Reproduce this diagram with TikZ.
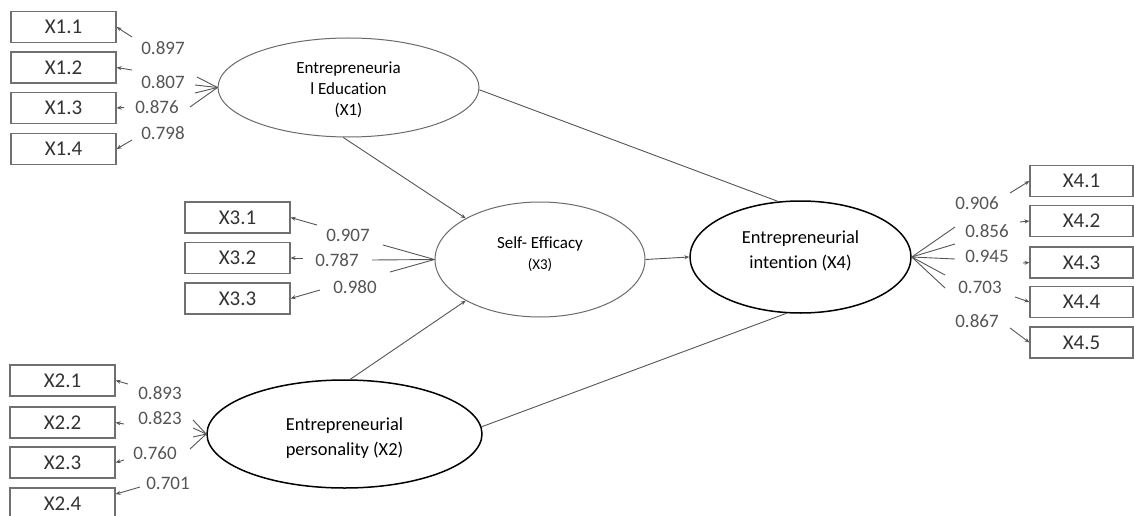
\documentclass[tikz,border=0pt]{standalone}
\usepackage{fontspec}
\setmainfont{Carlito}[Ligatures=NoCommon]
\usetikzlibrary{shapes.geometric,arrows.meta}
\definecolor{boxgray}{HTML}{707070}
\definecolor{textgray}{HTML}{333333}
\definecolor{numgray}{HTML}{555555}
\definecolor{ellgray}{HTML}{6A6A6A}
\definecolor{linegray}{HTML}{555555}
\begin{document}
\begin{tikzpicture}[x=1pt,y=-1pt,
  ind/.style={draw=boxgray, line width=1.2pt, minimum width=105pt, minimum height=31pt, inner sep=0pt, font=\fontsize{21}{22}\selectfont, text=textgray},
  lat/.style={ellipse, draw=ellgray, line width=1pt, inner sep=0pt},
  latb/.style={ellipse, draw=black, line width=1.5pt, inner sep=0pt},
  lattxt/.style={align=center, inner sep=0pt, font=\fontsize{17}{21}\selectfont},
  lattxtb/.style={align=center, inner sep=0pt, font=\fontsize{18.4}{25}\selectfont},
  ld/.style={font=\fontsize{19}{20}\selectfont, text=numgray, inner sep=0pt},
  pth/.style={draw=linegray, line width=0.9pt},
  arr/.style={pth, -{Stealth[length=5pt,width=4pt]}},
]
\useasboundingbox (0,0) rectangle (1134,516);

% latent variables
\node[lat, minimum width=261pt, minimum height=99pt] (X1) at (348.5,87.5) {};
\node[lattxt] (X1t) at ([yshift=-2.5pt]X1.center) {Entrepreneuria\\l Education\\(X1)};
\node[lat, minimum width=210pt, minimum height=115pt] (X3) at (540,259.5) {};
\node[lattxt] (X3t) at ([yshift=5pt]X3.center) {Self- Efficacy\\{\fontsize{15}{18}\selectfont (X3)}};
\node[latb, minimum width=221pt, minimum height=112pt] (X4) at (800.5,257) {};
\node[lattxtb] (X4t) at ([yshift=6pt]X4.center) {Entrepreneurial\\intention (X4)};
\node[latb, minimum width=275pt, minimum height=108pt] (X2) at (344.5,434) {};
\node[lattxtb] (X2t) at ([yshift=-4pt]X2.center) {Entrepreneurial\\personality (X2)};

% structural paths
\draw[arr] (X1.-96) -- (X3.151);
\draw[arr] (X2.84) -- (X3.-151);
\draw[arr] (X3.0) -- (X4.180);
\draw[pth] (X1.-1) -- (X4.112);
\draw[pth] (X2.3) -- (X4.-104);

% X1 indicators
\node[ind] (b11) at (63.5,27) {X1.1};
\node[ind] (b12) at (63.5,67.5) {X1.2};
\node[ind] (b13) at (63.5,108) {X1.3};
\node[ind] (b14) at (63.5,149) {X1.4};
\coordinate (f11) at (197,77);
\coordinate (f12) at (195,85);
\coordinate (f13) at (195,93);
\coordinate (f14) at (190,107);
\foreach \f in {f11,f12,f13,f14} \draw[pth] (X1.180) -- (\f);
\coordinate (a11) at (132,37);
\coordinate (a12) at (132,70);
\coordinate (a13) at (124,107.5);
\coordinate (a14) at (132,140);
\draw[arr] (a11) -- (b11.east);
\draw[arr] (a12) -- (b12.east);
\draw[arr] (a13) -- (b13.east);
\draw[arr] (a14) -- (b14.east);
\node[ld] (l11) at (163,48) {0.897};
\node[ld] (l12) at (163,82) {0.807};
\node[ld] (l13) at (157,107) {0.876};
\node[ld] (l14) at (163,133) {0.798};

% X3 indicators
\node[ind] (b31) at (237.5,217.5) {X3.1};
\node[ind] (b32) at (237.5,258) {X3.2};
\node[ind] (b33) at (237.5,298.5) {X3.3};
\coordinate (f31) at (383,245);
\coordinate (f32) at (372,260);
\coordinate (f33) at (390,272);
\foreach \f in {f31,f32,f33} \draw[pth] (X3.180) -- (\f);
\coordinate (a31) at (317,225);
\coordinate (a32) at (303,258);
\coordinate (a33) at (320,290);
\draw[arr] (a31) -- (b31.east);
\draw[arr] (a32) -- (b32.east);
\draw[arr] (a33) -- (b33.east);
\node[ld] (l31) at (348,235) {0.907};
\node[ld] (l32) at (337,260) {0.787};
\node[ld] (l33) at (355,287) {0.980};

% X2 indicators
\node[ind] (b21) at (62.5,380.5) {X2.1};
\node[ind] (b22) at (62.5,422.5) {X2.2};
\node[ind] (b23) at (62.5,462.5) {X2.3};
\node[ind] (b24) at (62.5,503.5) {X2.4};
\coordinate (f21) at (193,420);
\coordinate (f22) at (193,428);
\coordinate (f23) at (193,437);
\coordinate (f24) at (190,449);
\foreach \f in {f21,f22,f23,f24} \draw[pth] (X2.180) -- (\f);
\coordinate (a21) at (128,384);
\coordinate (a22) at (124,424);
\coordinate (a23) at (124,460);
\coordinate (a24) at (140,487);
\draw[arr] (a21) -- (b21.east);
\draw[arr] (a22) -- (b22.east);
\draw[arr] (a23) -- (b23.east);
\draw[arr] (a24) -- (b24.10);
\node[ld] (l21) at (160,393) {0.893};
\node[ld] (l22) at (160,418) {0.823};
\node[ld] (l23) at (155,453) {0.760};
\node[ld] (l24) at (168,483) {0.701};

% X4 indicators
\node[ind, minimum width=103pt] (b41) at (1081.5,181) {X4.1};
\node[ind, minimum width=103pt] (b42) at (1081.5,221) {X4.2};
\node[ind, minimum width=103pt] (b43) at (1081.5,262.5) {X4.3};
\node[ind, minimum width=103pt] (b44) at (1081.5,302) {X4.4};
\node[ind, minimum width=103pt] (b45) at (1081.5,342.5) {X4.5};
\coordinate (f41) at (955,227);
\coordinate (f42) at (955,244);
\coordinate (f43) at (955,259);
\coordinate (f44) at (945,275);
\coordinate (f45) at (945,288);
\foreach \f in {f41,f42,f43,f44,f45} \draw[pth] (X4.0) -- (\f);
\coordinate (a41) at (1010,193);
\coordinate (a42) at (1020,222);
\coordinate (a43) at (1023,263);
\coordinate (a44) at (1015,297);
\coordinate (a45) at (1010,328);
\draw[arr] (a41) -- (b41.west);
\draw[arr] (a42) -- (b42.west);
\draw[arr] (a43) -- (b43.west);
\draw[arr] (a44) -- (b44.west);
\draw[arr] (a45) -- (b45.west);
\node[ld] (l41) at (977,203) {0.906};
\node[ld] (l42) at (987,231) {0.856};
\node[ld] (l43) at (987,256) {0.945};
\node[ld] (l44) at (980,287) {0.703};
\node[ld] (l45) at (977,321) {0.867};
\end{tikzpicture}
\end{document}
